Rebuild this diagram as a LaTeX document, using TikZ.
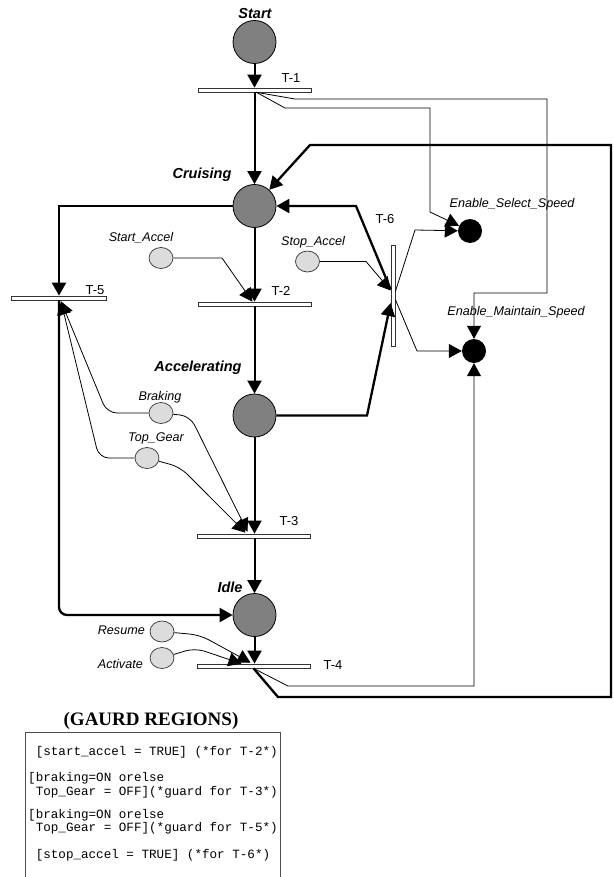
\documentclass[tikz,border=0pt]{standalone}
\usepackage{fontspec}
\setmainfont{Liberation Sans}
\newfontfamily\guardmono{Liberation Mono}
\newfontfamily\headserif{Liberation Serif}
\usetikzlibrary{arrows.meta,shapes.geometric,calc}
\definecolor{placegray}{HTML}{808080}
\definecolor{condgray}{HTML}{DCDCDC}
\tikzset{
  place/.style={circle,draw=black,line width=0.8pt,fill=placegray,minimum size=43pt,inner sep=0pt},
  cond/.style={ellipse,draw=black!80,line width=0.7pt,fill=condgray,minimum width=24pt,minimum height=21pt,inner sep=0pt},
  flag/.style={circle,fill=black,minimum size=24pt,inner sep=0pt},
  hbar/.style={rectangle,draw=black!80,fill=white,line width=0.7pt,minimum width=113pt,minimum height=4pt,inner sep=0pt},
  vbar/.style={rectangle,draw=black!80,fill=white,line width=0.7pt,minimum width=4pt,minimum height=101pt,inner sep=0pt},
  arrowtip/.style={-{Triangle[length=13pt,width=14pt]}},
  mainarc/.style={line width=2pt,arrowtip},
  heavyarc/.style={line width=2.3pt,arrowtip},
  thinarc/.style={line width=0.8pt,draw=black,arrowtip},
  statelbl/.style={font=\fontsize{14.5}{17}\selectfont\bfseries\itshape,inner sep=0pt},
  translbl/.style={font=\fontsize{13}{15}\selectfont,inner sep=0pt},
  condlbl/.style={font=\fontsize{12.6}{15}\selectfont\itshape,inner sep=0pt},
  guardtxt/.style={font=\guardmono\fontsize{12.6}{15}\selectfont,anchor=west,inner sep=0pt},
}
\begin{document}
\begin{tikzpicture}[x=1pt,y=-1pt]
\useasboundingbox (0,0) rectangle (613,877);

% places
\node[place] (start)    at (254.5,42)  {};
\node[place] (cruising) at (254.5,206) {};
\node[place] (accel)    at (254.5,415.5) {};
\node[place] (idle)     at (254.5,615) {};
\node[flag]  (ess)      at (470,231) {};
\node[flag]  (ems)      at (474,351) {};

% condition places
\node[cond] (startacc) at (161,258) {};
\node[cond] (stopacc)  at (307.5,261.5) {};
\node[cond] (braking)  at (161,413) {};
\node[cond] (topgear)  at (147,458) {};
\node[cond] (resume)   at (162,631.5) {};
\node[cond] (activate) at (162,658) {};

% transitions
\node[hbar] (t1) at (254.5,90) {};
\node[hbar] (t2) at (254.5,304) {};
\node[hbar] (t3) at (253.5,536) {};
\node[hbar] (t4) at (253.5,666) {};
\node[hbar,minimum width=95pt] (t5) at (59,298) {};
\node[vbar] (t6) at (393,295.5) {};

% labels
\node[statelbl] (lstart) at (255,14)  {Start};
\node[statelbl] (lcruis) at (202,175) {Cruising};
\node[statelbl] (laccel) at (198,368) {Accelerating};
\node[statelbl] (lidle)  at (230,587) {Idle};
\node[translbl] (lt1) at (291,78)  {T-1};
\node[translbl] (lt2) at (281,291) {T-2};
\node[translbl] (lt3) at (289,521) {T-3};
\node[translbl] (lt4) at (333,665) {T-4};
\node[translbl] (lt5) at (95,290)  {T-5};
\node[translbl] (lt6) at (385,219) {T-6};
\node[condlbl] (lstartacc) at (141,238) {Start\_Accel};
\node[condlbl] (lstopacc)  at (313,242) {Stop\_Accel};
\node[condlbl] (lbraking)  at (160,397) {Braking};
\node[condlbl] (ltopgear)  at (156,438) {Top\_Gear};
\node[condlbl,anchor=east] (lresume)   at (145,630) {Resume};
\node[condlbl,anchor=east] (lactivate) at (143,664) {Activate};
\node[condlbl] (less) at (512,204) {Enable\_Select\_Speed};
\node[condlbl] (lems) at (516,312) {Enable\_Maintain\_Speed};

% main column
\draw[mainarc] (start) -- (t1.north);
\draw[mainarc] (t1.south) -- (cruising);
\draw[mainarc] (cruising) -- (cruising |- t2.north);
\draw[mainarc] (cruising |- t2.south) -- (accel);
\draw[mainarc] (accel) -- (accel |- t3.north);
\draw[mainarc] (accel |- t3.south) -- (idle);
\draw[mainarc] (idle) -- (idle |- t4.north);

% heavy loops
\draw[heavyarc] (cruising) -| (t5.north);
\draw[heavyarc,rounded corners=8pt] (t5.south) |- (idle);
\draw[heavyarc] (accel) -- (367,415.5) -- ($(t6.west)+(0,7.5)$);
\draw[heavyarc] ($(t6.west)+(0,-6)$) -- (356,206) -- (cruising);
\draw[heavyarc] (t4.south) -- (278,697) -- (611,697) -- (611,145) -- (310,145) -- (cruising);

% condition arcs
\draw[thinarc] (startacc) -- (222,258) -- ($(t2.north)+(-2,0)$);
\draw[thinarc] (stopacc) -- (366,261.5) -- ($(t6.west)+(0,-5)$);
\draw[thinarc,rounded corners=10pt] (braking) -- (190,416) -- ($(t3.north)+(-6,-2)$);
\draw[thinarc,rounded corners=10pt] (topgear) -- (180,467) -- ($(t3.north)+(-8,-1)$);
\draw[thinarc,rounded corners=10pt] (braking) -- (107,413) -- ($(t5.south)+(2,1)$);
\draw[thinarc,rounded corners=10pt] (topgear) -- (99,458) -- ($(t5.south)+(2,1)$);
\draw[thinarc,rounded corners=10pt] (resume) -- (200,635) -- ($(t4.north)+(-3,-1)$);
\draw[thinarc,rounded corners=10pt] (activate) -- (195,648) -- ($(t4.north)+(-12,0)$);

% enabling outputs
\draw[thinarc] ($(t1.south)+(2,0)$) -- (295,99) -- (547,99) -- (547,293) -- (474,293) -- (ems);
\draw[thinarc] ($(t1.south)+(2,0)$) -- (285,108) -- (430,108) -- (430,212) -- (ess);
\draw[thinarc] ($(t6.east)+(0,-4)$) -- (415,230) -- (ess);
\draw[thinarc] ($(t6.east)+(0,4)$) -- (417,351) -- (ems);
\draw[thinarc] (t4.south) -- (288,686) -- (474,686) -- (ems);

% guard regions
\node[font=\headserif\bfseries\fontsize{19}{22}\selectfont,inner sep=0pt] (guardhead) at (151,721) {(GAURD REGIONS)};
\draw[black!70,line width=0.8pt] (25,880) -- (25,732) -- (280,732) -- (280,880);
\node[guardtxt] (g1) at (28,752) {~[start\_accel = TRUE] (*for T-2*)};
\node[guardtxt] (g2) at (28,778) {[braking=ON orelse};
\node[guardtxt] (g3) at (28,792) {~Top\_Gear = OFF](*guard for T-3*)};
\node[guardtxt] (g4) at (28,815) {[braking=ON orelse};
\node[guardtxt] (g5) at (28,828) {~Top\_Gear = OFF](*guard for T-5*)};
\node[guardtxt] (g6) at (28,855) {~[stop\_accel = TRUE] (*for T-6*)};
\end{tikzpicture}
\end{document}
